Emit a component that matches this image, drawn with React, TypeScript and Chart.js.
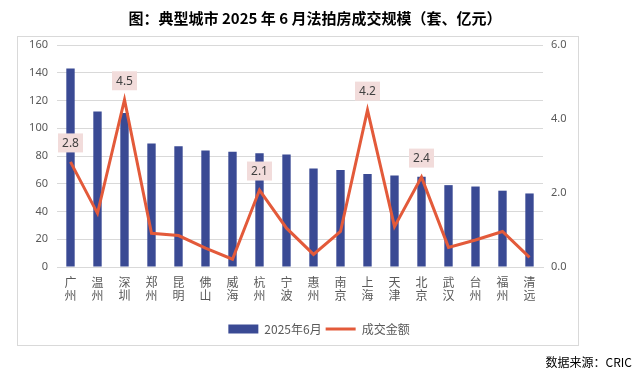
import React, { useEffect, useRef } from "react";
import { Chart, registerables } from "chart.js";

Chart.register(...registerables);

const categories = ["广州", "温州", "深圳", "郑州", "昆明", "佛山", "威海", "杭州", "宁波", "惠州", "南京", "上海", "天津", "北京", "武汉", "台州", "福州", "清远"];
const volumeJune2025 = [143, 112, 111, 89, 87, 84, 83, 82, 81, 71, 70, 67, 66, 65, 59, 58, 55, 53];
const dealAmount = [2.84, 1.45, 4.52, 0.91, 0.85, 0.51, 0.21, 2.08, 1.05, 0.34, 0.96, 4.24, 1.09, 2.43, 0.53, 0.73, 0.96, 0.26];
const labeledPointIndexes = [0, 2, 7, 11, 13];
const seriesNames = ["2025年6月", "成交金额"];
const leftAxisMax = 160;
const leftAxisStep = 20;
const rightAxisMax = 6;
const rightAxisStep = 2;

const BAR_COLOR = "#3A4A94";
const LINE_COLOR = "#E35A3A";
const TEXT_COLOR = "#595959";
const GRID_COLOR = "#D9D9D9";

const framePlugin = {
  id: "frame",
  beforeDraw(chart: any) {
    const ctx = chart.ctx;
    ctx.save();
    ctx.fillStyle = "#ffffff";
    ctx.fillRect(0, 0, chart.width, chart.height);
    ctx.strokeStyle = GRID_COLOR;
    ctx.lineWidth = 1;
    ctx.strokeRect(17.5, 36.5, 561, 309);
    ctx.restore();
  },
};

const pointLabelPlugin = {
  id: "pointLabels",
  afterDatasetsDraw(chart: any) {
    const meta = chart.getDatasetMeta(1);
    const ctx = chart.ctx;
    ctx.save();
    ctx.font = "12px 'Noto Sans', sans-serif";
    ctx.textAlign = "center";
    ctx.textBaseline = "middle";
    labeledPointIndexes.forEach((i) => {
      const el = meta.data[i];
      if (!el) return;
      const text = dealAmount[i].toFixed(1);
      const w = 25;
      const h = 19;
      const cx = el.x;
      const cy = el.y - 19;
      ctx.fillStyle = "#F2DCDB";
      ctx.fillRect(cx - w / 2, cy - h / 2, w, h);
      ctx.fillStyle = "#404040";
      ctx.fillText(text, cx, cy + 0.5);
    });
    ctx.restore();
  },
};

export default function App() {
  const canvasRef = useRef<HTMLCanvasElement | null>(null);

  useEffect(() => {
    if (!canvasRef.current) return;
    const chart = new Chart(canvasRef.current, {
      type: "bar",
      data: {
        labels: categories.map((c) => c.split("")),
        datasets: [
          {
            type: "bar",
            label: seriesNames[0],
            data: volumeJune2025,
            backgroundColor: BAR_COLOR,
            borderWidth: 0,
            barPercentage: 0.31,
            categoryPercentage: 1,
            yAxisID: "y",
            order: 1,
          } as any,
          {
            type: "line",
            label: seriesNames[1],
            data: dealAmount,
            borderColor: LINE_COLOR,
            backgroundColor: LINE_COLOR,
            borderWidth: 3,
            pointRadius: 0,
            pointHoverRadius: 0,
            pointStyle: "line",
            tension: 0,
            yAxisID: "y1",
            order: 0,
          } as any,
        ],
      },
      options: {
        responsive: false,
        animation: false,
        events: [],
        layout: { padding: { top: 45, bottom: 26, left: 0, right: 0 } },
        plugins: {
          tooltip: { enabled: false },
          legend: {
            position: "bottom",
            labels: {
              color: TEXT_COLOR,
              font: { size: 12, family: "'Noto Sans CJK SC', 'Noto Sans', sans-serif" },
              usePointStyle: true,
              pointStyleWidth: 30,
              boxHeight: 9,
              padding: 4,
              sort: (a: any, b: any) => a.datasetIndex - b.datasetIndex,
              generateLabels(chart: any) {
                const items = Chart.defaults.plugins.legend.labels.generateLabels(chart);
                items.forEach((it: any) => {
                  if (it.datasetIndex === 0) {
                    it.pointStyle = "rect";
                    it.fillStyle = BAR_COLOR;
                    it.strokeStyle = BAR_COLOR;
                    it.lineWidth = 0;
                  } else {
                    it.pointStyle = "line";
                    it.strokeStyle = LINE_COLOR;
                    it.lineWidth = 3;
                  }
                });
                return items;
              },
            },
          },
        },
        scales: {
          x: {
            offset: true,
            grid: { display: false, drawTicks: false },
            border: { display: true, color: GRID_COLOR },
            ticks: {
              color: TEXT_COLOR,
              font: { size: 12, family: "'Noto Sans CJK SC', sans-serif", lineHeight: 1.1 },
              padding: 9,
              maxRotation: 0,
              autoSkip: false,
            },
            afterFit(scale: any) {
              scale.height = 52;
            },
          },
          y: {
            position: "left",
            min: 0,
            max: leftAxisMax,
            grid: { color: GRID_COLOR, drawTicks: false },
            border: { display: false },
            ticks: {
              stepSize: leftAxisStep,
              color: TEXT_COLOR,
              font: { size: 11, family: "'Noto Sans', sans-serif" },
              padding: 9,
            },
            afterFit(scale: any) {
              scale.width = 57;
            },
          },
          y1: {
            position: "right",
            min: 0,
            max: rightAxisMax,
            grid: { display: false, drawTicks: false },
            border: { display: false },
            ticks: {
              stepSize: rightAxisStep,
              color: TEXT_COLOR,
              font: { size: 11, family: "'Noto Sans', sans-serif" },
              padding: 8,
              callback: (v: any) => Number(v).toFixed(1),
            },
            afterFit(scale: any) {
              scale.width = 95;
            },
          },
        },
      },
      plugins: [framePlugin, pointLabelPlugin],
    } as any);
    return () => chart.destroy();
  }, []);

  return (
    <div style={{ position: "absolute", left: 0, top: 0, width: 638, height: 371, background: "#fff" }}>
      <canvas ref={canvasRef} width={638} height={371} style={{ position: "absolute", left: 0, top: 0 }} />
      <div
        style={{
          position: "absolute",
          left: 0,
          top: 7,
          width: 630,
          textAlign: "center",
          fontFamily: "'Noto Sans CJK SC', sans-serif",
          fontWeight: 700,
          fontSize: 15,
          lineHeight: "21px",
          color: "#000",
        }}
      >
        图：典型城市 2025 年 6 月法拍房成交规模（套、亿元）
      </div>
      <div
        style={{
          position: "absolute",
          right: 6,
          top: 353,
          fontFamily: "'Noto Sans CJK SC', sans-serif",
          fontSize: 12,
          lineHeight: "17px",
          color: "#000",
        }}
      >
        数据来源：CRIC
      </div>
    </div>
  );
}
